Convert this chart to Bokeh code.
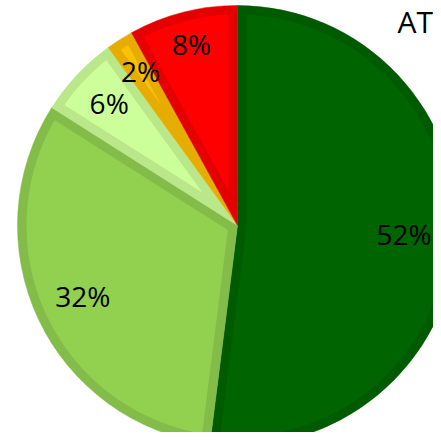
import numpy as np
from bokeh.plotting import figure
from bokeh.models import ColumnDataSource
from bokeh.core.properties import value
from bokeh.embed import file_html
from bokeh.resources import INLINE

# ---- data ----
categories = ["A", "B", "C", "D", "E"]
shares = [52, 32, 6, 2, 8]
labels = ["52%", "32%", "6%", "2%", "8%"]
fill_colors = ["#006400", "#92d050", "#ccff99", "#ffc000", "#ff0000"]
border_colors = ["#005a00", "#83bc48", "#b9e78a", "#e6ad00", "#e50000"]
title_text = "AT"

# ---- layout ----
W, H = 433, 432
CX, CY = 237, 207
R = 220
D = 9                                  # inner border width
label_radius = [167, 171, 176, 181, 185]
TEXT_SHIFT = 2                         # baseline offset below ink centre (px)

p = figure(width=W, height=H, x_range=(0, W), y_range=(0, H),
           output_backend="svg", toolbar_location=None, min_border=0)
p.axis.visible = False
p.grid.visible = False
p.outline_line_color = None
p.background_fill_color = "white"

vals = np.array(shares, dtype=float)
frac = vals / vals.sum()
cum = np.concatenate([[0], np.cumsum(frac)]) * 2 * np.pi  # clockwise from top
start_cw = cum[:-1]
end_cw = cum[1:]
a_start = np.pi / 2 - end_cw
a_end = np.pi / 2 - start_cw

src = ColumnDataSource(dict(start=a_start, end=a_end, border=border_colors))
p.wedge(x=CX, y=CY, radius=R, start_angle="start", end_angle="end",
        fill_color="border", line_color="border", line_width=0.5, source=src)

xs, ys = [], []
for a, b in zip(a_start, a_end):
    th = b - a
    m = (a + b) / 2
    apex = D / np.sin(th / 2)
    off = np.arcsin(D / (R - D))
    arc = np.linspace(a + off, b - off, 200)
    xs.append([CX + apex * np.cos(m)] + list(CX + (R - D) * np.cos(arc)))
    ys.append([CY + apex * np.sin(m)] + list(CY + (R - D) * np.sin(arc)))
p.patches(xs=xs, ys=ys, fill_color=fill_colors, line_color=None)

mid = (a_start + a_end) / 2
lr = np.array(label_radius, dtype=float)
lsrc = ColumnDataSource(dict(x=CX + lr * np.cos(mid),
                             y=CY + lr * np.sin(mid) + TEXT_SHIFT, t=labels))
p.text(x="x", y="y", text="t", source=lsrc, text_font=value("Open Sans"),
       text_font_size="28px", text_align="center", text_baseline="alphabetic",
       text_color="black")

p.text(x=[397], y=[411], text=[title_text], text_font=value("Open Sans"),
       text_font_size="30px", text_align="left", text_baseline="alphabetic",
       text_color="black")

open("out.html", "w").write(file_html(p, INLINE))
